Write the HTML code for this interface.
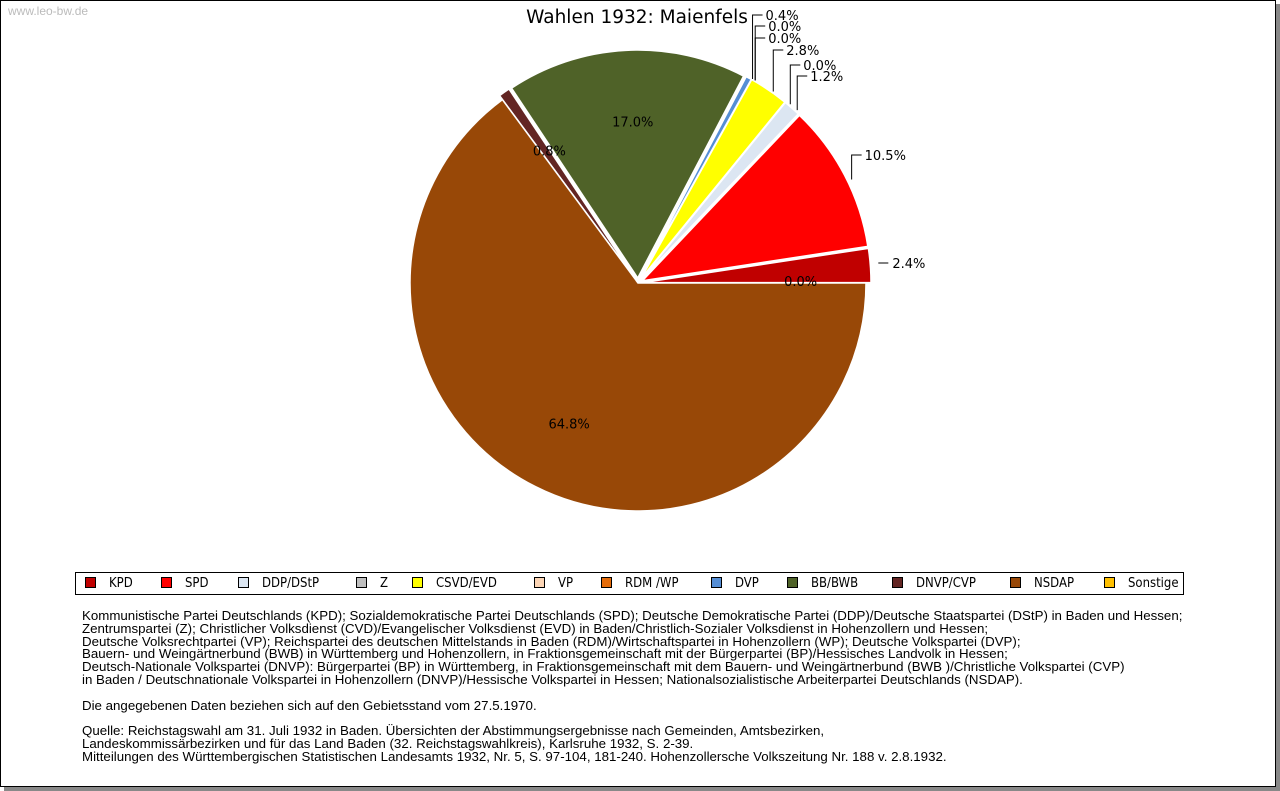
<!DOCTYPE html>
<html><head><meta charset="utf-8">
<style>
html,body{margin:0;padding:0;background:#fff;width:1280px;height:791px;overflow:hidden}
#frame{position:absolute;left:0;top:0;width:1274px;height:785px;border:1px solid #000;box-shadow:4px 4px 0 #888;background:#fff}
#wm{position:absolute;left:8px;top:4px;font:12px "Liberation Sans",sans-serif;color:#bbb}
#legend{position:absolute;left:75px;top:572px;width:1107px;height:21px;border:1px solid #000;font:13px "DejaVu Sans Condensed","DejaVu Sans",sans-serif}
.li{position:absolute;top:3px;white-space:nowrap}
.sw{display:inline-block;width:9px;height:9px;border:1px solid #000;margin-right:13px;vertical-align:-1px}
#notes{position:absolute;left:82px;top:610px;font:13.3px/12.8px "Liberation Sans",sans-serif;color:#000;white-space:pre}
svg{position:absolute;left:0;top:0}
</style></head><body>
<div id="frame"></div>
<div id="wm">www.leo-bw.de</div>
<svg width="1280" height="791" id="chart">
<text x="637" y="23" text-anchor="middle" font-family="DejaVu Sans, sans-serif" font-size="18.5">Wahlen 1932: Maienfels</text>
</svg>
<div id="legend"></div>
<div id="notes">Kommunistische Partei Deutschlands (KPD); Sozialdemokratische Partei Deutschlands (SPD); Deutsche Demokratische Partei (DDP)/Deutsche Staatspartei (DStP) in Baden und Hessen;
Zentrumspartei (Z); Christlicher Volksdienst (CVD)/Evangelischer Volksdienst (EVD) in Baden/Christlich-Sozialer Volksdienst in Hohenzollern und Hessen;
Deutsche Volksrechtpartei (VP); Reichspartei des deutschen Mittelstands in Baden (RDM)/Wirtschaftspartei in Hohenzollern (WP); Deutsche Volkspartei (DVP);
Bauern- und Weingärtnerbund (BWB) in Württemberg und Hohenzollern, in Fraktionsgemeinschaft mit der Bürgerpartei (BP)/Hessisches Landvolk in Hessen;
Deutsch-Nationale Volkspartei (DNVP): Bürgerpartei (BP) in Württemberg, in Fraktionsgemeinschaft mit dem Bauern- und Weingärtnerbund (BWB )/Christliche Volkspartei (CVP)
in Baden / Deutschnationale Volkspartei in Hohenzollern (DNVP)/Hessische Volkspartei in Hessen; Nationalsozialistische Arbeiterpartei Deutschlands (NSDAP).

Die angegebenen Daten beziehen sich auf den Gebietsstand vom 27.5.1970.

Quelle: Reichstagswahl am 31. Juli 1932 in Baden. Übersichten der Abstimmungsergebnisse nach Gemeinden, Amtsbezirken,
Landeskommissärbezirken und für das Land Baden (32. Reichstagswahlkreis), Karlsruhe 1932, S. 2-39.
Mitteilungen des Württembergischen Statistischen Landesamts 1932, Nr. 5, S. 97-104, 181-240. Hohenzollersche Volkszeitung Nr. 188 v. 2.8.1932.</div>
<script>
const parties = ["Sonstige","KPD","SPD","DDP/DStP","Z","CSVD/EVD","VP","RDM /WP","DVP","BB/BWB","DNVP/CVP","NSDAP"];
const values = [0.0,2.4,10.5,1.2,0.0,2.8,0.0,0.0,0.4,17.0,0.8,64.8];
const colors = ["#ffc000","#c00000","#ff0000","#dce6f2","#bfbfbf","#ffff00","#fcd5b5","#e46c0a","#558ed5","#4f6228","#632523","#984807"];
const legendParties = ["KPD","SPD","DDP/DStP","Z","CSVD/EVD","VP","RDM /WP","DVP","BB/BWB","DNVP/CVP","NSDAP","Sonstige"];
// label layout: 'in' = inside label, otherwise y of outer label
const labelMode = ["in",263,155,76,65,50,38,26,15,"in","in","in"];

const NS="http://www.w3.org/2000/svg";
const svg=document.getElementById('chart');
const cx=638, cy=283, R=228, explode=5;
const total=values.reduce((a,b)=>a+b,0);
function pt(a,r,dx,dy){return [cx+(dx||0)+r*Math.cos(a), cy+(dy||0)-r*Math.sin(a)];}
let acc=0;
const lg=document.createElementNS(NS,'g');
values.forEach((v,i)=>{
  const a0=acc/total*2*Math.PI; acc+=v; const a1=acc/total*2*Math.PI; const am=(a0+a1)/2;
  const ex = parties[i]==="NSDAP"?0:explode;
  const dx=ex*Math.cos(am), dy=-ex*Math.sin(am);
  if(v>0){
    const p0=pt(a0,R,dx,dy), p1=pt(a1,R,dx,dy);
    const large=(a1-a0)>Math.PI?1:0;
    const path=document.createElementNS(NS,'path');
    path.setAttribute('d',`M${cx+dx},${cy+dy} L${p0[0]},${p0[1]} A${R},${R} 0 ${large} 0 ${p1[0]},${p1[1]} Z`);
    path.setAttribute('fill',colors[i]);
    path.setAttribute('stroke','#fff');
    path.setAttribute('stroke-width','1.5');
    
    
    svg.appendChild(path);
  }
  const txt=document.createElementNS(NS,'text');
  txt.setAttribute('font-family','DejaVu Sans, sans-serif');
  txt.setAttribute('font-size','13');
  txt.textContent=v.toFixed(1)+'%';
  
  
  const m=labelMode[i];
  if(m==="in"){
    const p=pt(am,R*0.7);
    txt.setAttribute('x',p[0]+3); txt.setAttribute('y',p[1]+3); txt.setAttribute('text-anchor','middle');
  } else {
    const s=pt(am,R+8,dx,dy);
    const line=document.createElementNS(NS,'polyline');
    let pts, tx;
    if(Math.abs(s[1]-m)<8){ pts=`${s[0]},${m} ${s[0]+10},${m}`; tx=s[0]+14; }
    else { pts=`${s[0]},${s[1]+8} ${s[0]},${m} ${s[0]+10},${m}`; tx=s[0]+13; }
    line.setAttribute('points',pts); line.setAttribute('fill','none'); line.setAttribute('stroke','#000');
    
    
    lg.appendChild(line);
    txt.setAttribute('x',tx); txt.setAttribute('y',m+5);
  }
  lg.appendChild(txt);
});
svg.appendChild(lg);

const leg=document.getElementById('legend');
const legX=[9,85,162,280,336,458,525,635,711,816,934,1028];
legendParties.forEach((p,k)=>{
  const d=document.createElement('div'); d.className='li'; d.style.left=legX[k]+'px';
  
  
  const s=document.createElement('span'); s.className='sw'; s.style.background=colors[parties.indexOf(p)];
  d.appendChild(s); d.appendChild(document.createTextNode(p)); leg.appendChild(d);
});
</script>
</body></html>
